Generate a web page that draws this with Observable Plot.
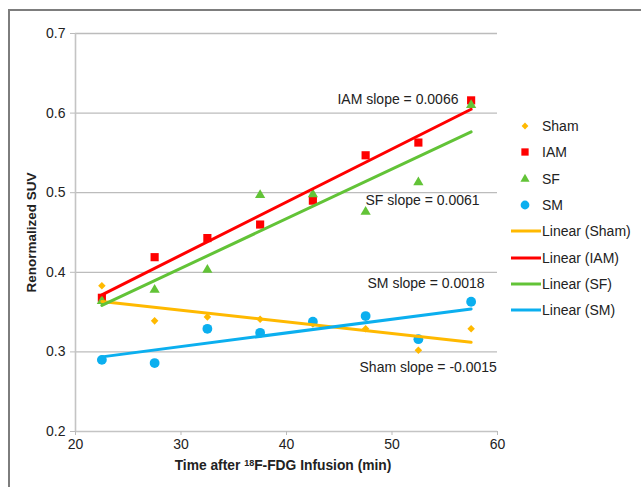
<!DOCTYPE html>
<html>
<head>
<meta charset="utf-8">
<script src="https://cdn.jsdelivr.net/npm/d3@7"></script>
<script src="https://cdn.jsdelivr.net/npm/@observablehq/plot@0.6"></script>
<style>
  body { margin: 0; background: #fff; font-family: "Liberation Sans", Arial, sans-serif; }
  #wrap { position: relative; width: 641px; height: 487px; overflow: hidden; background: #fff; }
  #frame { position: absolute; left: 8px; top: 9px; width: 800px; height: 800px;
           border-left: 2px solid #7d7d7d; border-top: 2px solid #7d7d7d; }
  #chart { position: absolute; left: 0; top: 0; }
  #xtitle { position: absolute; left: 0; width: 566px; top: 458px; text-align: center;
            font-weight: bold; font-size: 13.8px; color: #222; }
  #xtitle sup { font-size: 9px; vertical-align: 4px; line-height: 0; }
  #legend { position: absolute; left: 509px; top: 113px; font-size: 14px; color: #222; }
  .row { height: 26.3px; display: flex; align-items: center; }
  .sym { width: 33px; height: 26px; display: block; }
</style>
</head>
<body>
<div id="wrap">
  <div id="frame"></div>
  <div id="chart"></div>
  <div id="xtitle">Time after <sup>18</sup>F-FDG Infusion (min)</div>
  <div id="legend"></div>
</div>
<script>
// ---- data ----
const times = [22.5, 27.5, 32.5, 37.5, 42.5, 47.5, 52.5, 57.5];
const sham  = [0.383, 0.339, 0.344, 0.341, 0.335, 0.329, 0.302, 0.329];
const iam   = [0.368, 0.419, 0.443, 0.460, 0.490, 0.547, 0.563, 0.616];
const sf    = [0.364, 0.378, 0.403, 0.497, 0.498, 0.476, 0.513, 0.610];
const sm    = [0.290, 0.286, 0.329, 0.324, 0.338, 0.345, 0.316, 0.363];

const seriesNames = ["Sham", "IAM", "SF", "SM"];
const seriesValues = [sham, iam, sf, sm];
const seriesColors = ["#FFB900", "#FF0000", "#62C337", "#0BAFEF"];
const seriesSymbols = ["diamond2", "square", "triangle", "circle"];
const seriesRadius = [3.4, 4.6, 3.8, 4.9];

const xTicks = [20, 30, 40, 50, 60];
const yTicks = [0.2, 0.3, 0.4, 0.5, 0.6, 0.7];

const slopeLabels = ["IAM slope = 0.0066", "SF slope = 0.0061", "SM slope = 0.0018", "Sham slope = -0.0015"];
const slopeX = [44.83, 47.49, 47.68, 46.92];
const slopeY = [0.617, 0.490, 0.386, 0.2805];

// ---- long table ----
const rows = [];
seriesNames.forEach((name, si) => {
  times.forEach((t, i) => rows.push({series: name, time: t, value: seriesValues[si][i]}));
});
const annotations = slopeLabels.map((text, i) => ({text, x: slopeX[i], y: slopeY[i]}));

const marks = [
  Plot.gridY(yTicks.slice(1), {stroke: "#bcbcbc", strokeOpacity: 1, strokeWidth: 1.3}),
  Plot.ruleX([20], {stroke: "#c4c4c4", strokeWidth: 1.6}),
  Plot.ruleY([0.2], {stroke: "#c4c4c4", strokeWidth: 1.6}),
  Plot.axisY(yTicks, {tickSize: 5, tickPadding: 5, tickFormat: d => d.toFixed(1), stroke: "#bbb", fill: "#222", label: null, fontSize: 14}),
  Plot.axisX(xTicks, {tickSize: 4, tickPadding: 4, stroke: "#bbb", fill: "#222", label: null, fontSize: 14})
];

seriesNames.forEach((name, si) => {
  marks.push(Plot.dot(rows.filter(d => d.series === name), {
    x: "time", y: "value", symbol: () => seriesSymbols[si], r: seriesRadius[si],
    fill: seriesColors[si], stroke: "none"
  }));
});
seriesNames.forEach((name, si) => {
  marks.push(Plot.linearRegressionY(rows.filter(d => d.series === name), {
    x: "time", y: "value", stroke: seriesColors[si], strokeWidth: 3, ci: 0
  }));
});

marks.push(Plot.text(annotations, {x: "x", y: "y", text: "text", textAnchor: "start", fontSize: 14, fill: "#222"}));
marks.push(Plot.text(["Renormalized SUV"], {frameAnchor: "left", textAnchor: "middle", dx: -44, rotate: -90, fontSize: 13.5, fontWeight: "bold", fill: "#222"}));

const chart = Plot.plot({
  width: 641, height: 487,
  marginLeft: 75, marginRight: 144, marginTop: 33, marginBottom: 56,
  x: {domain: [20, 60]},
  y: {domain: [0.2, 0.7]},
  style: {fontFamily: '"Liberation Sans", Arial, sans-serif', fontSize: "14px", color: "#222", background: "transparent", overflow: "visible"},
  marks
});
document.getElementById("chart").appendChild(chart);

// ---- legend ----
const legend = d3.select("#legend");
seriesNames.forEach((name, si) => {
  const r = legend.append("div").attr("class", "row");
  const s = r.append("svg").attr("class", "sym").attr("width", 33).attr("height", 26);
  const sym = {diamond2: d3.symbolDiamond2, square: d3.symbolSquare, triangle: d3.symbolTriangle, circle: d3.symbolCircle}[seriesSymbols[si]];
  s.append("path").attr("transform", "translate(16,13)")
    .attr("d", d3.symbol(sym, Math.PI * seriesRadius[si] * seriesRadius[si] * 0.8)())
    .attr("fill", seriesColors[si]);
  r.append("span").text(name);
});
seriesNames.forEach((name, si) => {
  const r = legend.append("div").attr("class", "row");
  const s = r.append("svg").attr("class", "sym").attr("width", 33).attr("height", 26);
  s.append("line").attr("x1", 2).attr("x2", 32).attr("y1", 13).attr("y2", 13)
    .attr("stroke", seriesColors[si]).attr("stroke-width", 3);
  r.append("span").text(`Linear (${name})`);
});
</script>
</body>
</html>
